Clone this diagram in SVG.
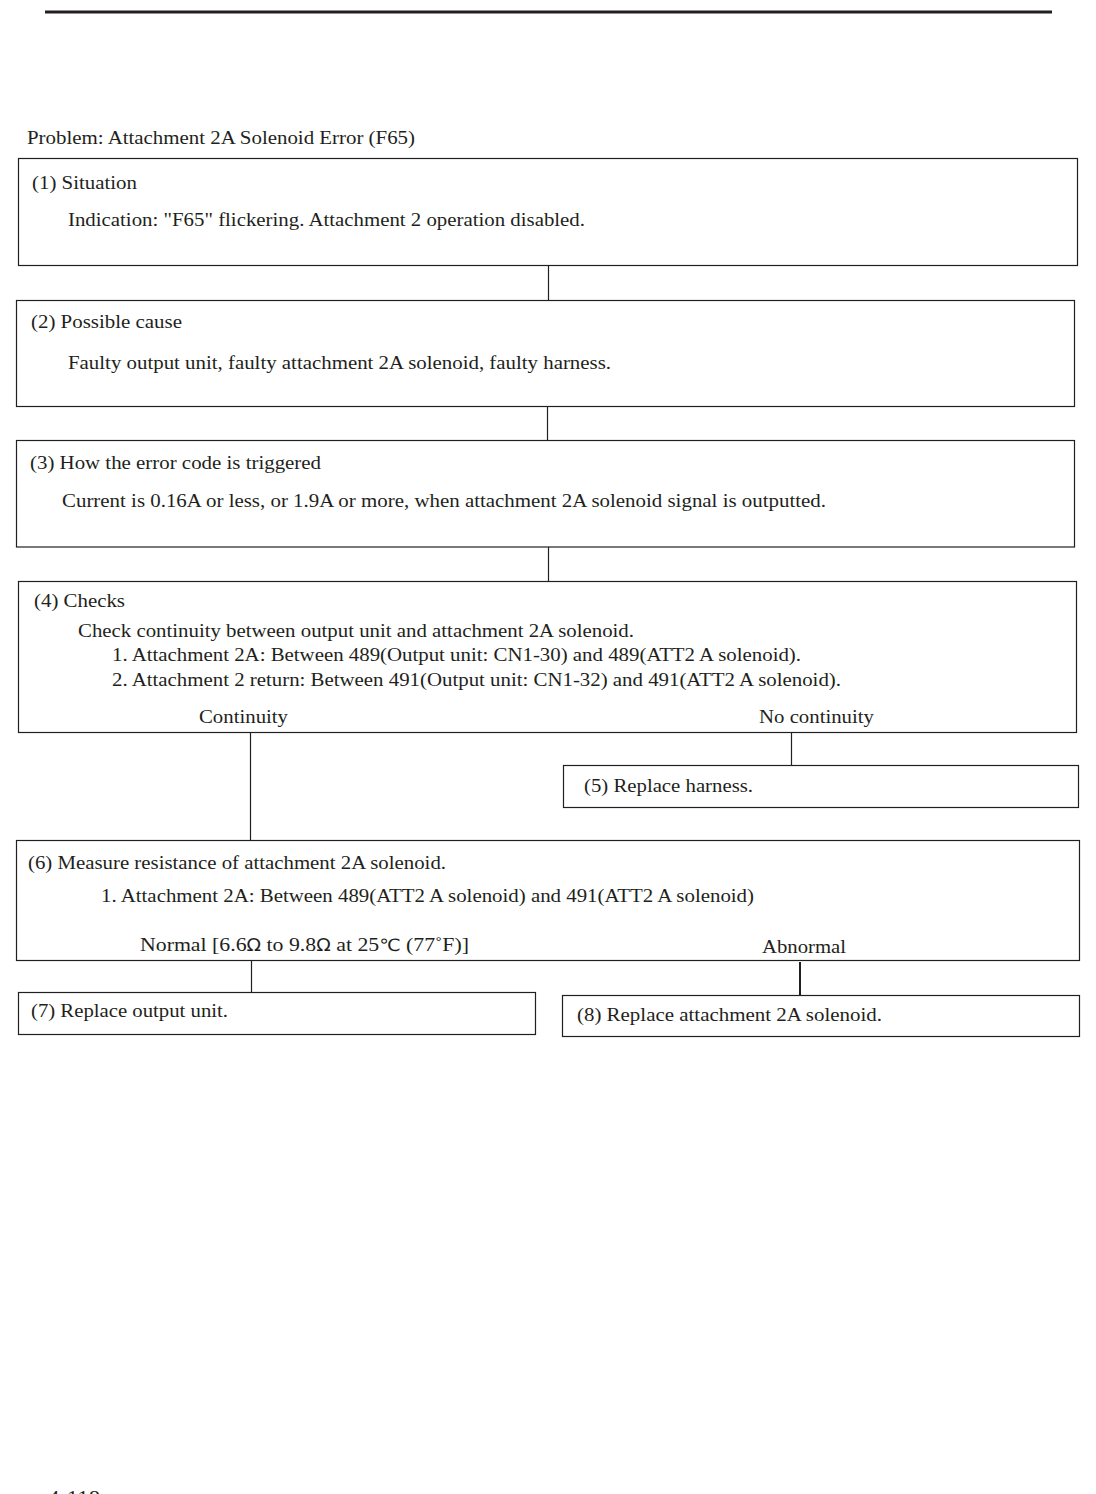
<svg xmlns="http://www.w3.org/2000/svg" width="1096" height="1494" viewBox="0 0 1096 1494">
<style>
.box{fill:none;stroke:#231f20;stroke-width:1.2}
.con line{stroke:#231f20;stroke-width:1.2}
text{font-family:"Liberation Serif","Times New Roman",serif;font-size:19.5px;fill:#231f20}
.sym{font-family:"DejaVu Sans","Liberation Sans",sans-serif;font-size:17px}
</style>
<rect width="1096" height="1494" fill="#ffffff"/>
<line x1="45" y1="12" x2="1052" y2="12" stroke="#231f20" stroke-width="3"/>
<text x="27" y="144" textLength="388" lengthAdjust="spacingAndGlyphs">Problem: Attachment 2A Solenoid Error (F65)</text>

<g id="n1">
<rect class="box" x="18.5" y="158.5" width="1059" height="107"/>
<text x="32" y="189" textLength="105" lengthAdjust="spacingAndGlyphs">(1) Situation</text>
<text x="68" y="226" textLength="517" lengthAdjust="spacingAndGlyphs">Indication: "F65" flickering. Attachment 2 operation disabled.</text>
</g>
<g id="n2">
<rect class="box" x="16.5" y="300.5" width="1058" height="106"/>
<text x="31" y="328" textLength="151" lengthAdjust="spacingAndGlyphs">(2) Possible cause</text>
<text x="68" y="369" textLength="543" lengthAdjust="spacingAndGlyphs">Faulty output unit, faulty attachment 2A solenoid, faulty harness.</text>
</g>
<g id="n3">
<rect class="box" x="16.5" y="440.5" width="1058" height="106.5"/>
<text x="30" y="469" textLength="291" lengthAdjust="spacingAndGlyphs">(3) How the error code is triggered</text>
<text x="62" y="507" textLength="764" lengthAdjust="spacingAndGlyphs">Current is 0.16A or less, or 1.9A or more, when attachment 2A solenoid signal is outputted.</text>
</g>
<g id="n4">
<rect class="box" x="18.5" y="581.5" width="1058" height="151"/>
<text x="34" y="607" textLength="91" lengthAdjust="spacingAndGlyphs">(4) Checks</text>
<text x="78" y="637" textLength="556" lengthAdjust="spacingAndGlyphs">Check continuity between output unit and attachment 2A solenoid.</text>
<text x="112" y="661" textLength="689" lengthAdjust="spacingAndGlyphs">1. Attachment 2A: Between 489(Output unit: CN1-30) and 489(ATT2 A solenoid).</text>
<text x="112" y="686" textLength="729" lengthAdjust="spacingAndGlyphs">2. Attachment 2 return: Between 491(Output unit: CN1-32) and 491(ATT2 A solenoid).</text>
<text x="199" y="723" textLength="89" lengthAdjust="spacingAndGlyphs">Continuity</text>
<text x="759" y="723" textLength="115" lengthAdjust="spacingAndGlyphs">No continuity</text>
</g>
<g id="n5">
<rect class="box" x="563.5" y="765.5" width="515" height="42"/>
<text x="584" y="792" textLength="169" lengthAdjust="spacingAndGlyphs">(5) Replace harness.</text>
</g>
<g id="n6">
<rect class="box" x="16.5" y="840.5" width="1063" height="120"/>
<text x="28" y="869" textLength="418" lengthAdjust="spacingAndGlyphs">(6) Measure resistance of attachment 2A solenoid.</text>
<text x="101" y="902" textLength="653" lengthAdjust="spacingAndGlyphs">1. Attachment 2A: Between 489(ATT2 A solenoid) and 491(ATT2 A solenoid)</text>
<text x="140" y="951" textLength="329" lengthAdjust="spacingAndGlyphs">Normal [6.6<tspan class="sym">Ω</tspan> to 9.8<tspan class="sym">Ω</tspan> at 25<tspan class="sym">℃</tspan> (77˚F)]</text>
<text x="762" y="953" textLength="84" lengthAdjust="spacingAndGlyphs">Abnormal</text>
</g>
<g id="n7">
<rect class="box" x="18.5" y="992.5" width="517" height="42"/>
<text x="31" y="1017" textLength="197" lengthAdjust="spacingAndGlyphs">(7) Replace output unit.</text>
</g>
<g id="n8">
<rect class="box" x="562.5" y="995.5" width="517" height="41"/>
<text x="577" y="1021" textLength="305" lengthAdjust="spacingAndGlyphs">(8) Replace attachment 2A solenoid.</text>
</g>

<g id="connectors" class="con">
<line x1="548.5" y1="265.5" x2="548.5" y2="300.5"/>
<line x1="547.5" y1="406.5" x2="547.5" y2="440.5"/>
<line x1="548.5" y1="547" x2="548.5" y2="581.5"/>
<line x1="250.5" y1="732.5" x2="250.5" y2="840.5"/>
<line x1="791.5" y1="732.5" x2="791.5" y2="765.5"/>
<line x1="251.5" y1="960.5" x2="251.5" y2="992.5"/>
<line x1="800" y1="962" x2="800" y2="995.5" style="stroke-width:2"/>
</g>
<text x="48" y="1504" style="font-size:18px" textLength="52" lengthAdjust="spacingAndGlyphs">4-118</text>
</svg>
